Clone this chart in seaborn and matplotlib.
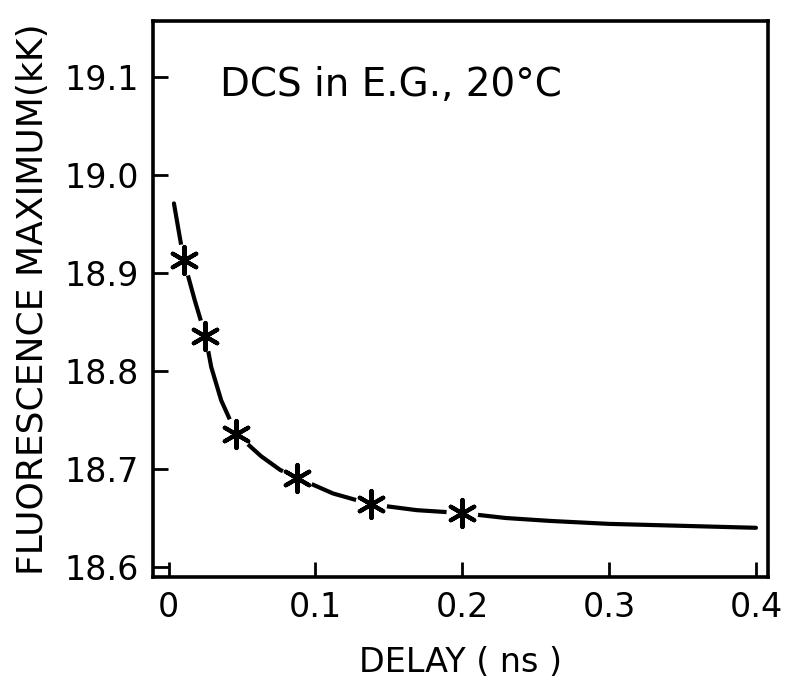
import matplotlib
matplotlib.use("Agg")
import matplotlib.pyplot as plt
import seaborn as sns
import pandas as pd

# measured points
delay_pts = [0.0103, 0.025, 0.046, 0.0876, 0.138, 0.200]
fmax_pts = [18.913, 18.836, 18.736, 18.691, 18.664, 18.655]

# fitted curve
curve_x = [0.0036, 0.0103, 0.0178, 0.025, 0.029, 0.0358, 0.046, 0.063, 0.076,
           0.0876, 0.112, 0.138, 0.169, 0.200, 0.2295, 0.26, 0.30, 0.35, 0.40]
curve_y = [18.971, 18.913, 18.872, 18.836, 18.804, 18.770, 18.736, 18.713, 18.699,
           18.691, 18.675, 18.664, 18.658, 18.655, 18.650, 18.647, 18.644, 18.642, 18.640]

xticks = [0, 0.1, 0.2, 0.3, 0.4]
xtick_labels = ["0", "0.1", "0.2", "0.3", "0.4"]
yticks = [18.6, 18.7, 18.8, 18.9, 19.0, 19.1]
ytick_labels = ["18.6", "18.7", "18.8", "18.9", "19.0", "19.1"]

sns.set_style("white")
plt.rcParams['font.family'] = ['DejaVu Sans']

fig = plt.figure(figsize=(7.87, 6.85), dpi=100)
ax = fig.add_axes([152.5 / 787, 108 / 685, (768 - 152.5) / 787, (577 - 21) / 685])

dfc = pd.DataFrame({"x": curve_x, "y": curve_y})
dfp = pd.DataFrame({"x": delay_pts, "y": fmax_pts})

sns.lineplot(data=dfc, x="x", y="y", ax=ax, color="black", lw=3.0, sort=True)
# white gaps around stars
sns.scatterplot(data=dfp, x="x", y="y", ax=ax, s=520, color="white",
                edgecolor="none", marker="o", zorder=3)
sns.scatterplot(data=dfp, x="x", y="y", ax=ax, s=380, color="black",
                marker=(6, 2, 0), linewidth=3.0, edgecolor="black", zorder=4)

ax.set_xlim(-0.011, 0.4082)
ax.set_ylim(18.5898, 19.1571)
ax.set_xticks(xticks)
ax.set_xticklabels(xtick_labels)
ax.set_yticks(yticks)
ax.set_yticklabels(ytick_labels)
ax.tick_params(bottom=True, left=True, top=False, right=False,
               direction="in", length=11, width=2, labelsize=24,
               colors="black", pad=10)
for s in ax.spines.values():
    s.set_visible(True)
    s.set_color("black")
    s.set_linewidth(2.6)

ax.set_xlabel("DELAY ( ns )", fontsize=24, labelpad=16, color="black")
ax.set_ylabel("FLUORESCENCE MAXIMUM(kK)", fontsize=26, labelpad=10,
              color="black")
ax.text(0.11, 0.885, "DCS in E.G., 20°C", transform=ax.transAxes,
        fontsize=28, ha="left", va="center", color="black")

fig.savefig("out.png", dpi=100)
